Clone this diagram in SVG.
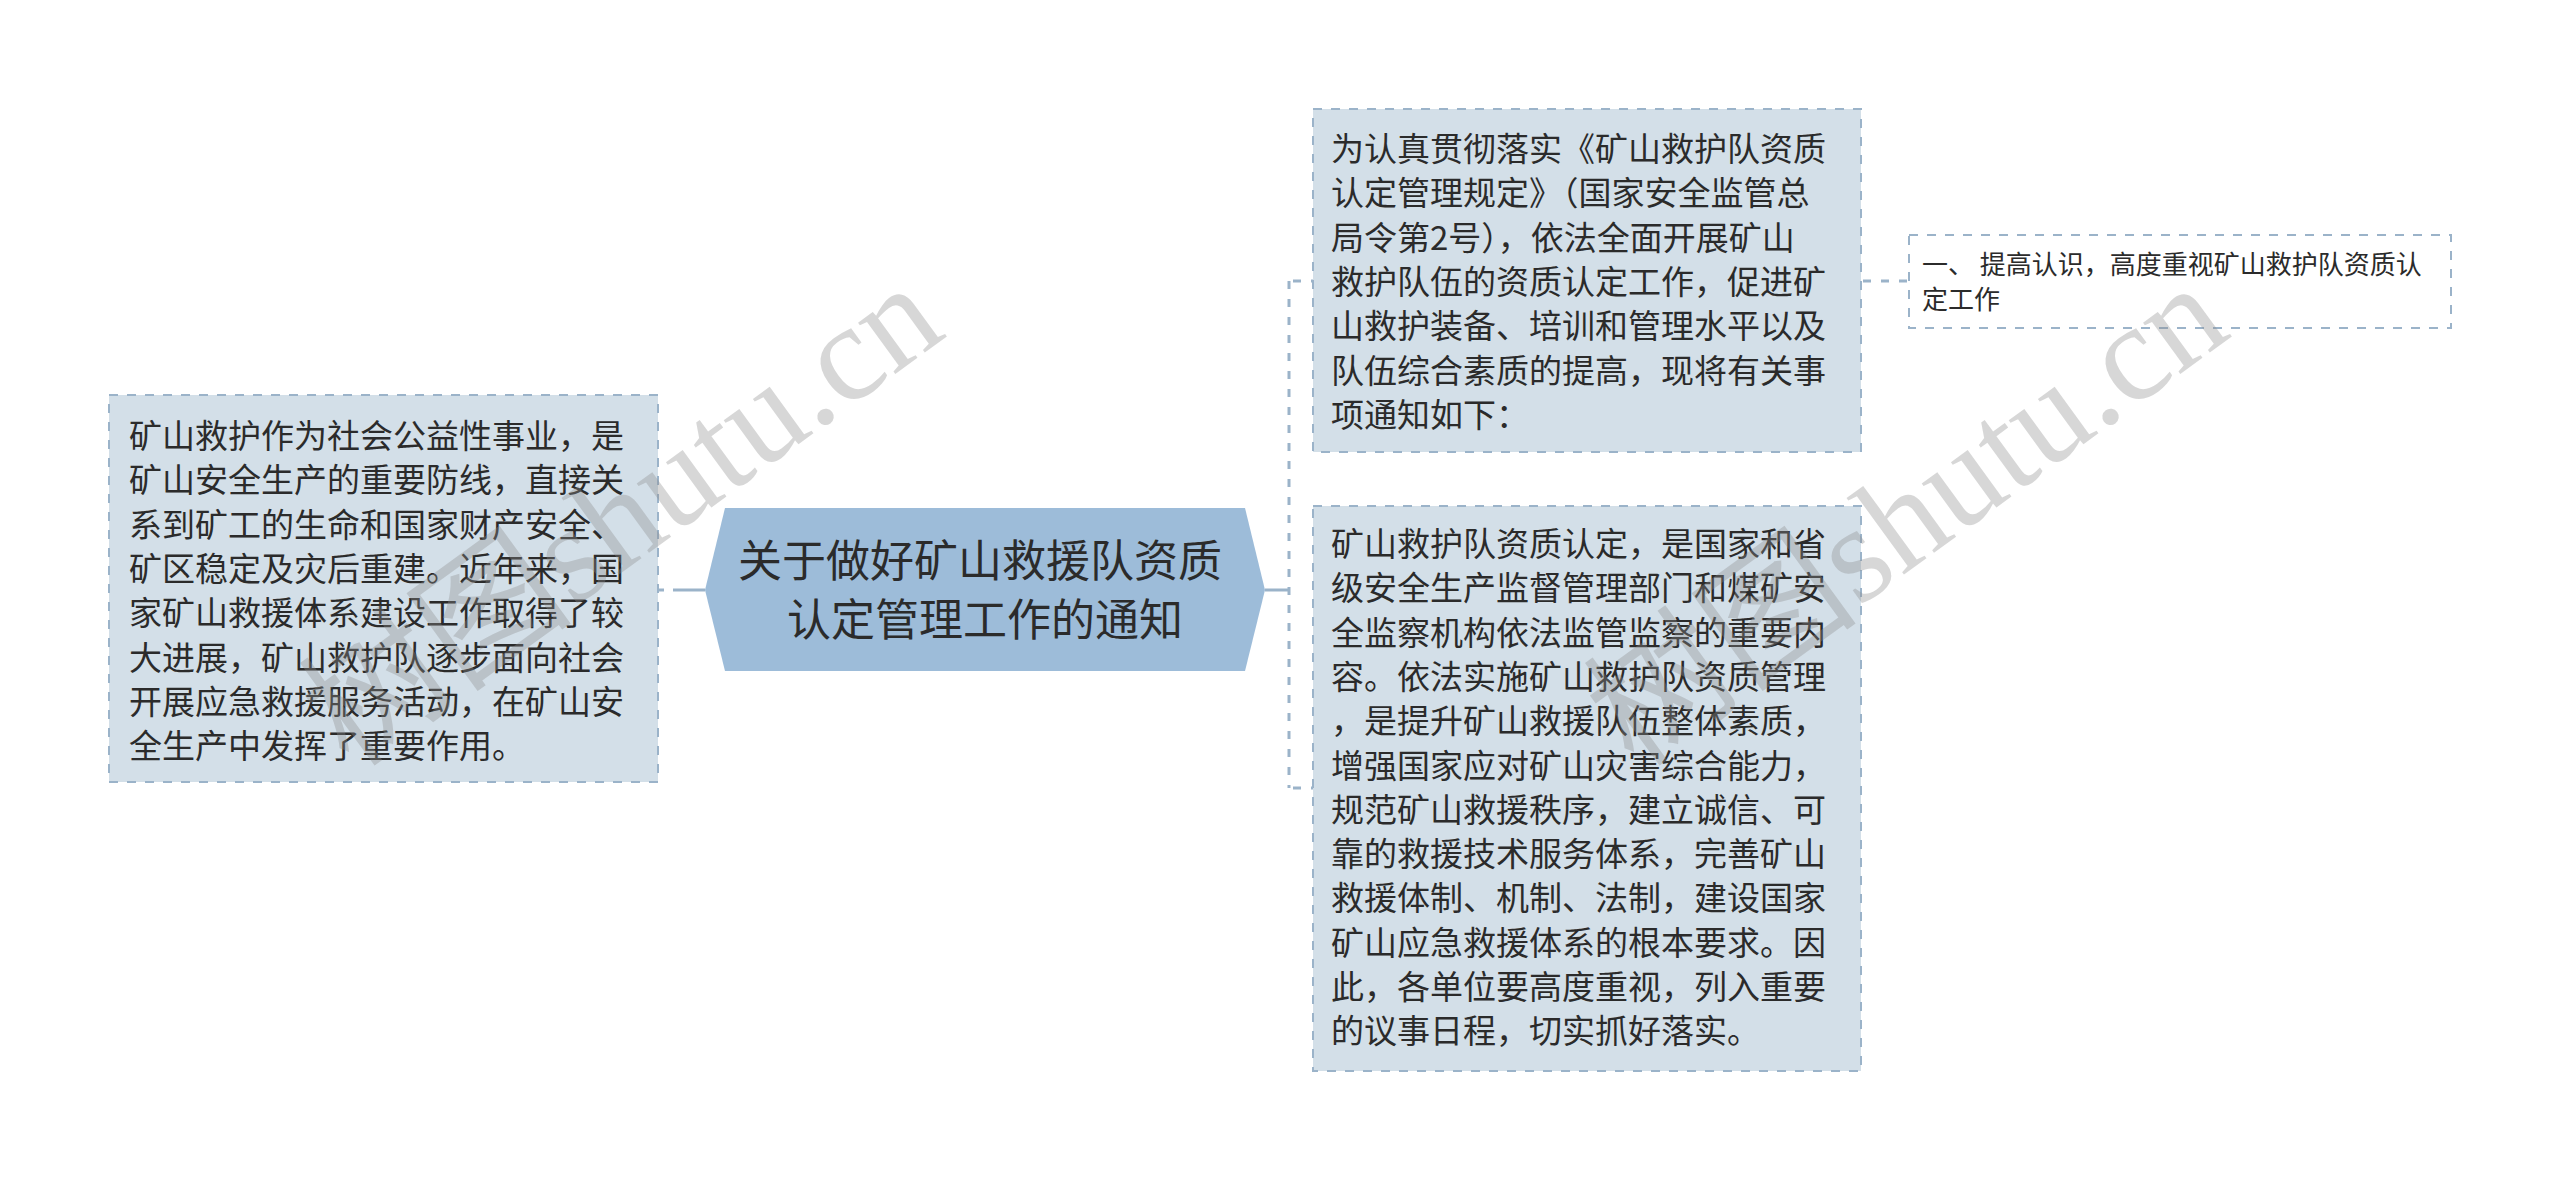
<svg xmlns="http://www.w3.org/2000/svg" width="2560" height="1181" viewBox="0 0 2560 1181">
<style>
.box{fill:#d3dfe8;stroke:#9bb3c9;stroke-width:2;stroke-dasharray:9 9}
.sbox{fill:#ffffff;stroke:#9bb3c9;stroke-width:2;stroke-dasharray:9 9}
.hex{fill:#9dbcd9}
.t{font-family:"Noto Sans CJK SC","Noto Sans",sans-serif;fill:#2b2b2b}
.b{font-size:33px}
.c{font-size:44px;text-anchor:middle}
.s{font-size:26px}
.con{fill:none;stroke:#9bb3c9;stroke-width:3}
.dash{stroke-dasharray:8 10}
.wm{font-family:"Liberation Serif","Noto Sans CJK SC",serif;font-size:138px;fill:#8c8c8c;fill-opacity:0.35}
</style>
<rect width="2560" height="1181" fill="#ffffff"/>
<g id="connectors">
<line class="con" x1="673" y1="590" x2="705" y2="590"/>
<line class="con" x1="658" y1="590" x2="664" y2="590"/>
<line class="con" x1="1265" y1="590" x2="1289" y2="590"/>
<line class="con dash" x1="1289" y1="281" x2="1289" y2="788"/>
<line class="con dash" x1="1293" y1="281" x2="1313" y2="281"/>
<line class="con dash" x1="1293" y1="788" x2="1313" y2="788"/>
<line class="con dash" x1="1863" y1="281" x2="1909" y2="281" stroke-width="2"/>
</g>
<g id="node-left">
<rect class="box" x="109" y="395" width="549" height="387"/>
<text class="t b" x="129" y="448">
<tspan x="129" y="448">矿山救护作为社会公益性事业，是</tspan>
<tspan x="129" y="492.3">矿山安全生产的重要防线，直接关</tspan>
<tspan x="129" y="536.6">系到矿工的生命和国家财产安全、</tspan>
<tspan x="129" y="580.9">矿区稳定及灾后重建。近年来，国</tspan>
<tspan x="129" y="625.2">家矿山救援体系建设工作取得了较</tspan>
<tspan x="129" y="669.5">大进展，矿山救护队逐步面向社会</tspan>
<tspan x="129" y="713.8">开展应急救援服务活动，在矿山安</tspan>
<tspan x="129" y="758.1">全生产中发挥了重要作用。</tspan>
</text>
</g>
<g id="node-center">
<polygon class="hex" points="705,590 725,508 1245,508 1265,590 1245,671 725,671"/>
<text class="t c" x="985" y="577">
<tspan x="985" y="577">关于做好矿山救援队资质</tspan>
<tspan x="985" y="636">认定管理工作的通知</tspan>
</text>
</g>
<g id="node-right-top">
<rect class="box" x="1313" y="109" width="548" height="343"/>
<text class="t b" x="1331" y="161">
<tspan x="1331" y="161">为认真贯彻落实《矿山救护队资质</tspan>
<tspan x="1331" y="205.3">认定管理规定》（国家安全监管总</tspan>
<tspan x="1331" y="249.6">局令第2号），依法全面开展矿山</tspan>
<tspan x="1331" y="293.9">救护队伍的资质认定工作，促进矿</tspan>
<tspan x="1331" y="338.2">山救护装备、培训和管理水平以及</tspan>
<tspan x="1331" y="382.5">队伍综合素质的提高，现将有关事</tspan>
<tspan x="1331" y="426.8">项通知如下：</tspan>
</text>
</g>
<g id="node-right-bottom">
<rect class="box" x="1313" y="506" width="548" height="565"/>
<text class="t b" x="1331" y="556">
<tspan x="1331" y="556">矿山救护队资质认定，是国家和省</tspan>
<tspan x="1331" y="600.3">级安全生产监督管理部门和煤矿安</tspan>
<tspan x="1331" y="644.6">全监察机构依法监管监察的重要内</tspan>
<tspan x="1331" y="688.9">容。依法实施矿山救护队资质管理</tspan>
<tspan x="1331" y="733.2">，是提升矿山救援队伍整体素质，</tspan>
<tspan x="1331" y="777.5">增强国家应对矿山灾害综合能力，</tspan>
<tspan x="1331" y="821.8">规范矿山救援秩序，建立诚信、可</tspan>
<tspan x="1331" y="866.1">靠的救援技术服务体系，完善矿山</tspan>
<tspan x="1331" y="910.4">救援体制、机制、法制，建设国家</tspan>
<tspan x="1331" y="954.7">矿山应急救援体系的根本要求。因</tspan>
<tspan x="1331" y="999">此，各单位要高度重视，列入重要</tspan>
<tspan x="1331" y="1043.3">的议事日程，切实抓好落实。</tspan>
</text>
</g>
<g id="node-small">
<rect class="sbox" x="1909" y="235" width="542" height="93"/>
<text class="t s" x="1922" y="274">
<tspan x="1922" y="274">一、 提高认识，高度重视矿山救护队资质认</tspan>
<tspan x="1922" y="309">定工作</tspan>
</text>
</g>
<g id="watermarks">
<text class="wm" transform="translate(350,770) rotate(-36)">树图shutu.cn</text>
<text class="wm" transform="translate(1635,770) rotate(-36)">树图shutu.cn</text>
</g>
</svg>
